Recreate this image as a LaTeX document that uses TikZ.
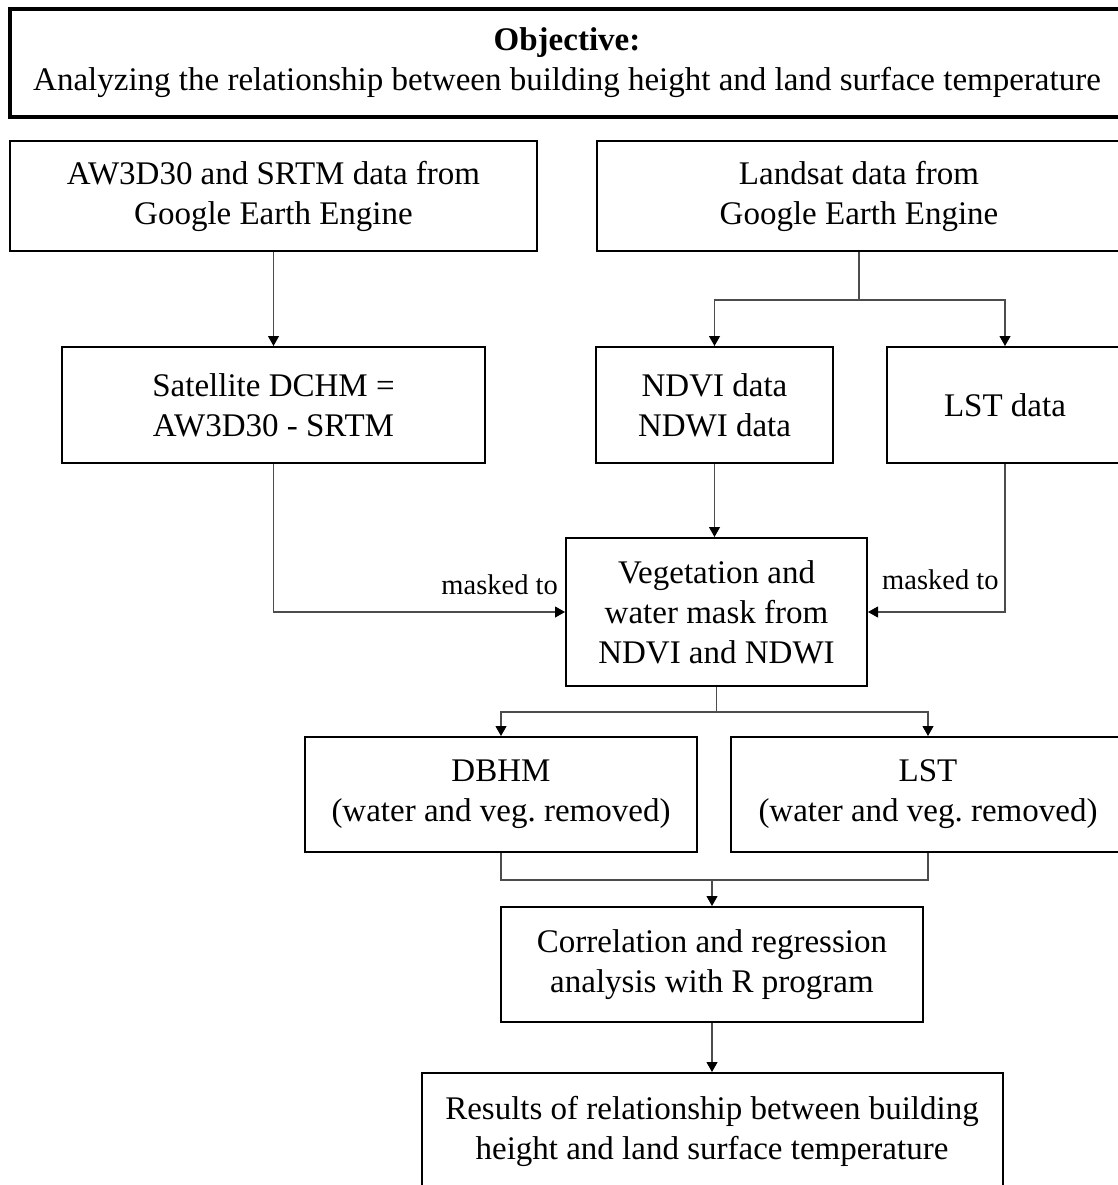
\documentclass[tikz,border=0pt]{standalone}
\usepackage{fontspec}
\setmainfont{Liberation Serif}
\usetikzlibrary{arrows.meta}
\frenchspacing
\begin{document}
\begin{tikzpicture}[x=1pt,y=-1pt,
  box/.style={draw=black, line width=2pt, inner sep=0pt, align=center,
    font=\fontsize{33}{40}\selectfont},
  conn/.style={draw=black!70, line width=1.1pt},
  arr/.style={conn, -{Triangle[length=10pt,width=11pt,black]}},
  lbl/.style={font=\fontsize{28.5}{34}\selectfont, inner sep=0pt}]
\useasboundingbox (0,0) rectangle (1118,1185);
\clip (0,0) rectangle (1118,1185);
\fill[white] (0,0) rectangle (1118,1185);

\node[box, line width=4pt, minimum width=1114pt, minimum height=108pt] (obj) at (567,63)
  {\textbf{Objective:}\\Analyzing the relationship between building height and land surface temperature};

\node[box, minimum width=527pt, minimum height=110pt] (aw) at (273.5,196)
  {AW3D30 and SRTM data from\\Google Earth Engine};
\node[box, minimum width=524pt, minimum height=110pt] (ls) at (859,196)
  {Landsat data from\\Google Earth Engine};

\node[box, minimum width=423pt, minimum height=116pt] (sat) at (273.5,405)
  {Satellite DCHM =\\AW3D30 - SRTM};
\node[box, minimum width=237pt, minimum height=116pt] (ndvi) at (714.5,405)
  {NDVI data\\NDWI data};
\node[box, minimum width=237pt, minimum height=116pt] (lst) at (1005,405)
  {LST data};

\node[box, minimum width=301pt, minimum height=148pt] (veg) at (716.5,612)
  {Vegetation and\\water mask from\\NDVI and NDWI};

\node[box, minimum width=392pt, minimum height=115pt] (dbhm) at (501,794.5)
  {DBHM\\(water and veg. removed)};
\node[box, minimum width=394pt, minimum height=115pt] (lst2) at (928,794.5)
  {LST\\(water and veg. removed)};

\node[box, minimum width=422pt, minimum height=115pt] (corr) at (712,964.5)
  {Correlation and regression\\analysis with R program};

\node[box, minimum width=581pt, minimum height=117pt] (res) at (712,1131.5)
  {Results of relationship between building\\height and land surface temperature};

% connectors
\draw[arr] (aw.south) -- (sat.north);
\draw[conn] (ls.south) -- ++(0,48) coordinate (lsb);
\draw[arr] (lsb) -| (ndvi.north);
\draw[arr] (lsb) -| (lst.north);
\draw[arr] (sat.south) |- (veg.west);
\draw[arr] (lst.south) |- (veg.east);
\draw[arr] (ndvi.south) -- (ndvi.south |- veg.north);
\draw[conn] (veg.south) -- ++(0,25) coordinate (vb);
\draw[arr] (vb) -| (dbhm.north);
\draw[arr] (vb) -| (lst2.north);
\draw[conn] (dbhm.south) -- ++(0,27) coordinate (db) -| (lst2.south);
\draw[arr] (db -| corr.north) -- (corr.north);
\draw[arr] (corr.south) -- (corr.south |- res.north);

\node[lbl, anchor=base east] (m1) at (558,594) {masked to};
\node[lbl, anchor=base west] (m2) at (882,589) {masked to};
\end{tikzpicture}
\end{document}
